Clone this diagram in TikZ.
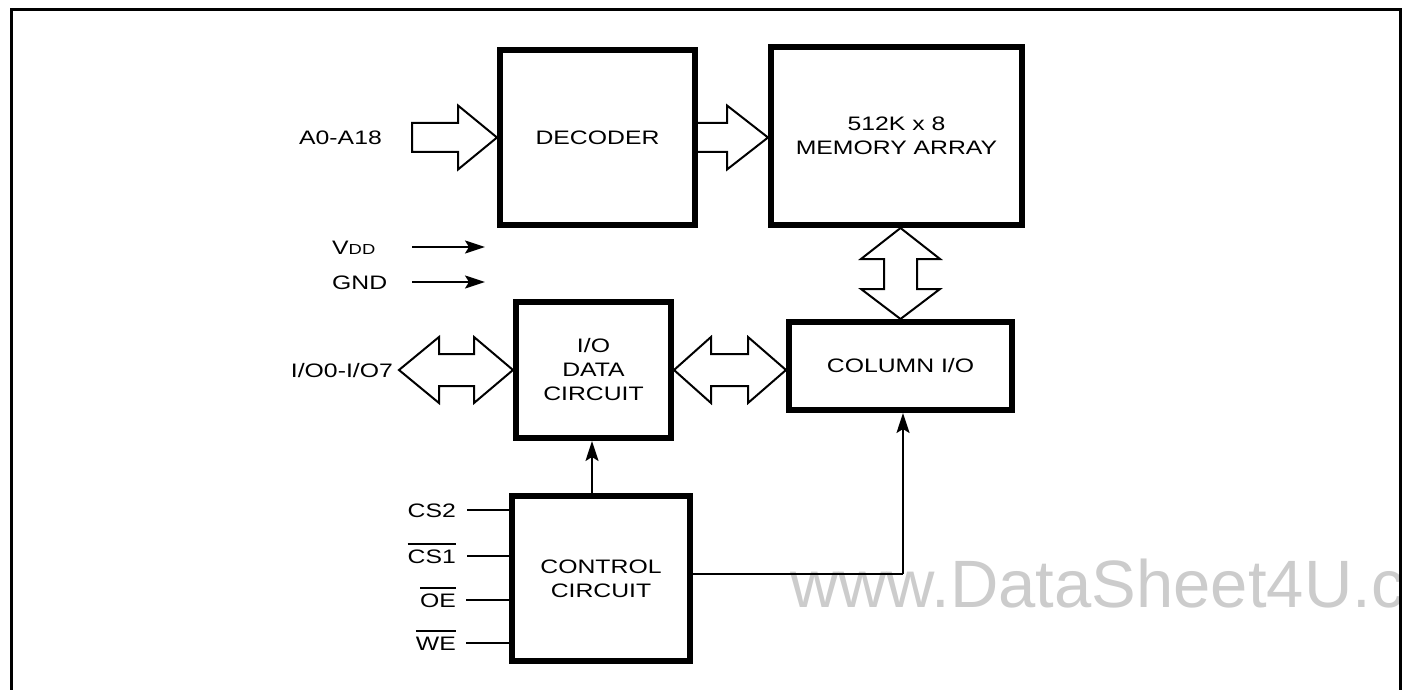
\documentclass[tikz,border=0pt]{standalone}
\usepackage{fontspec}
\setmainfont{Liberation Sans}[FakeStretch=1.27]
\newfontfamily\wmfont{Liberation Sans}
\usetikzlibrary{arrows.meta,calc}
\definecolor{wmgray}{HTML}{CCCCCC}
\newcommand\dfont{\fontsize{19.5}{24}\selectfont}
\newcommand\ovl[1]{\setbox0\hbox{#1}\rlap{\rule[18pt]{\wd0}{1.6pt}}\box0}
\begin{document}
\begin{tikzpicture}[x=1pt,y=-1pt,
  blk/.style={draw, line width=6pt, inner sep=0pt, align=center, font=\dfont},
  barrow/.style={draw, line width=2pt, line join=miter},
  sig/.style={line width=2pt, -{Stealth[length=20pt,width=13pt,inset=4pt]}},
  wire/.style={line width=2pt},
  lbl/.style={inner sep=0pt, font=\dfont, text height=14pt, text depth=0pt}
]
\useasboundingbox (0,0) rectangle (1403,690);
% watermark
\begin{scope}
\clip (12,12) rectangle (1398.5,690);
\node[anchor=base west, inner sep=0pt, text=wmgray, font=\wmfont\fontsize{67}{67}\selectfont] (wm) at (790,607) {www.DataSheet4U.c};
\end{scope}
% frame
\draw[line width=3pt] (11,695) -- (11,10) -- (1400,10) -- (1400,695);
% blocks
\node[blk, minimum width=195pt, minimum height=175pt] (dec) at (597.5,137.5) {DECODER};
\node[blk, minimum width=251pt, minimum height=178pt] (mem) at (896.5,136) {512K x 8\\MEMORY ARRAY};
\node[blk, minimum width=155pt, minimum height=136pt] (io) at (593.5,370) {I/O\\DATA\\CIRCUIT};
\node[blk, minimum width=223pt, minimum height=88pt] (col) at (900.5,366) {COLUMN I/O};
\node[blk, minimum width=178pt, minimum height=165pt] (ctrl) at (601,578.5) {CONTROL\\CIRCUIT};
% labels
\node[lbl, anchor=east] (a0) at (382,138) {A0-A18};
\node[lbl, anchor=west] (vdd) at (332,247) {V{\fontsize{14.5}{14.5}\selectfont DD}};
\node[lbl, anchor=west] (gnd) at (332,282) {GND};
\node[lbl, anchor=east] (iol) at (393,370) {I/O0-I/O7};
\node[lbl, anchor=east] (cs2) at (456,510) {CS2};
\node[lbl, anchor=east] (cs1) at (456,556) {\ovl{CS1}};
\node[lbl, anchor=east] (oe) at (456,600) {\ovl{OE}};
\node[lbl, anchor=east] (we) at (456,643) {\ovl{WE}};
% block arrows
\draw[barrow] let \p1=(dec.west) in
  (\x1-85,\y1+14.5) -- (\x1-39,\y1+14.5) -- (\x1-39,\y1+32) -- (\p1)
  -- (\x1-39,\y1-32) -- (\x1-39,\y1-14.5) -- (\x1-85,\y1-14.5) -- cycle;
\draw[barrow] let \p1=(dec.east), \p2=(mem.west) in
  (\x1-3,\y1+14.5) -- (\x2-41,\y1+14.5) -- (\x2-41,\y1+32) -- (\x2,\y1)
  -- (\x2-41,\y1-32) -- (\x2-41,\y1-14.5) -- (\x1-3,\y1-14.5);
\draw[barrow] let \p1=(mem.south), \p2=(col.north) in
  (\x2,\y1) -- (\x2+39.5,\y1-31) -- (\x2+16.5,\y1-31) -- (\x2+16.5,\y2+30)
  -- (\x2+39.5,\y2+30) -- (\x2,\y2) -- (\x2-39.5,\y2+30) -- (\x2-16.5,\y2+30)
  -- (\x2-16.5,\y1-31) -- (\x2-39.5,\y1-31) -- cycle;
\draw[barrow] let \p1=(io.east), \p2=(col.west) in
  (\x1,\y1) -- (\x1+37,\y1+33) -- (\x1+37,\y1+16) -- (\x2-38,\y1+16)
  -- (\x2-38,\y1+33) -- (\x2,\y1) -- (\x2-38,\y1-33) -- (\x2-38,\y1-16)
  -- (\x1+37,\y1-16) -- (\x1+37,\y1-33) -- cycle;
\draw[barrow] let \p1=(iol.east), \p2=(io.west) in
  (\x1+6,\y2) -- (\x1+46,\y2+33) -- (\x1+46,\y2+16) -- (\x2-39,\y2+16)
  -- (\x2-39,\y2+33) -- (\x2,\y2) -- (\x2-39,\y2-33) -- (\x2-39,\y2-16)
  -- (\x1+46,\y2-16) -- (\x1+46,\y2-33) -- cycle;
% power arrows
\coordinate (vddend) at (485,247);
\coordinate (gndend) at (485,282);
\draw[sig] ($(vdd.west)+(80,0)$) -- (vddend);
\draw[sig] ($(gnd.west)+(80,0)$) -- (gndend);
% control inputs
\draw[wire] ($(cs2.east)+(11,0)$) -- (cs2.east -| ctrl.west);
\draw[wire] ($(cs1.east)+(11,0)$) -- (cs1.east -| ctrl.west);
\draw[wire] ($(oe.east)+(10,0)$) -- (oe.east -| ctrl.west);
\draw[wire] ($(we.east)+(10,0)$) -- (we.east -| ctrl.west);
% control outputs
\coordinate (up1) at (592,0);
\draw[sig] (ctrl.north -| up1) -- (io.south -| up1);
\coordinate (bend) at (903,574);
\draw[wire] ($(ctrl.east)+(0,-4.5)$) -- (bend);
\draw[sig] (bend) -- (bend |- col.south);
\end{tikzpicture}
\end{document}
